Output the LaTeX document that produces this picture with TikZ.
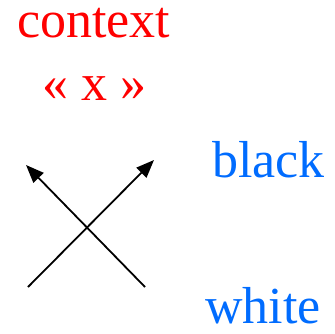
\documentclass[tikz,border=0pt]{standalone}
\usepackage{fontspec}
\setmainfont{Liberation Serif}
\usetikzlibrary{arrows.meta}

\begin{document}
\begin{tikzpicture}[x=1pt,y=-1pt,font=\fontsize{52}{60}\selectfont,>={Triangle[length=18pt,width=14pt]},word/.style={anchor=base west, inner sep=0pt},label/.style={word, text=red},value/.style={word, text={rgb,255:red,0;green,108;blue,255}},arrow/.style={->, line width=1.8pt}]
\useasboundingbox (0,0) rectangle (334,334);
\node[label] (ctx) at (17,38) {context};
\node[label] (sym) at (42,101) {« x »};
\node[value] (blk) at (212,177) {black};
\node[value] (wht) at (205,323) {white};
\coordinate (bl) at (28,287);\coordinate (tr) at (154,160);
\coordinate (br) at (145,287);\coordinate (tl) at (26,165);
\draw[arrow] (bl) -- (tr);\draw[arrow] (br) -- (tl);
\end{tikzpicture}
\end{document}
